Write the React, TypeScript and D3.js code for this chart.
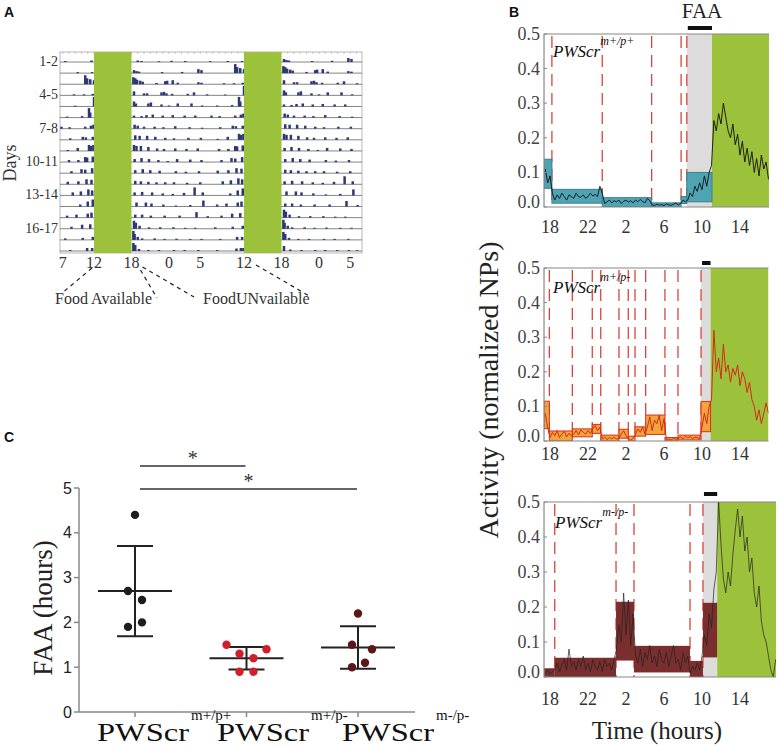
import React, { useEffect, useRef } from "react";
import * as d3 from "d3";

const SERIF = "'Liberation Serif', 'Times New Roman', serif";
const SANS = "'Liberation Sans', Arial, sans-serif";

// ---- A: double plotted actogram, bouts per day as [clock hour, relative height]
const actoDays: [number, number][][] = [
  [[7.2, 0.1], [11.4, 0.15], [18.8, 0.15], [19.4, 0.1], [22.2, 0.08]],
  [[0.2, 0.12], [2.4, 0.1], [6.4, 0.08], [9.2, 0.1], [11.5, 0.1], [18.2, 0.3], [18.6, 0.2], [19, 0.15], [22.7, 0.1]],
  [[1.9, 0.12], [4.5, 0.4], [5, 0.3], [10.4, 0.9], [10.7, 0.6], [11.2, 0.5], [11.8, 0.4], [18.1, 0.7], [18.4, 0.6], [18.7, 0.45], [19.2, 0.35], [19.6, 0.25], [21.8, 0.12], [23.2, 0.3], [23.5, 0.35]],
  [[0.4, 0.4], [1.2, 0.15], [4.5, 0.2], [5, 0.15], [8.6, 0.1], [10.2, 0.1], [11.6, 0.15], [18.2, 0.4], [19.8, 0.2], [20.3, 0.2], [22.6, 0.3], [23, 0.35], [23.4, 0.2]],
  [[0.3, 0.15], [2.8, 0.15], [3.8, 0.3], [5.9, 0.1], [8.8, 0.08], [11.8, 0.95], [11.9, 0.6], [18.2, 0.5], [18.5, 0.3], [20.5, 0.3], [20.9, 0.4], [22.6, 0.2], [23.8, 0.1]],
  [[1.2, 0.3], [3.4, 0.3], [5.1, 0.1], [7.5, 0.1], [9.9, 0.15], [11, 0.95], [11.2, 0.5], [18.2, 0.2], [19.4, 0.15], [20.2, 0.25], [21.2, 0.3], [22.8, 0.2]],
  [[0.4, 0.25], [2.3, 0.2], [4, 0.2], [6.6, 0.2], [7.9, 0.15], [10.4, 0.2], [11.3, 0.3], [11.7, 0.4], [18.3, 0.4], [18.8, 0.3], [19.8, 0.2], [21.5, 0.2], [22.9, 0.15]],
  [[0.8, 0.25], [3.1, 0.15], [5.1, 0.1], [8, 0.15], [10, 0.3], [10.5, 0.25], [11.6, 0.3], [18.4, 0.45], [19.1, 0.4], [20.3, 0.4], [21.6, 0.3], [23.2, 0.2]],
  [[0.6, 0.15], [2.9, 0.2], [4.9, 0.2], [7.6, 0.1], [9.2, 0.3], [11, 0.6], [11.3, 0.5], [11.7, 0.6], [18.2, 0.6], [18.6, 0.5], [19.3, 0.5], [20.5, 0.4], [21.9, 0.25], [23, 0.2]],
  [[0.8, 0.25], [2.6, 0.2], [4.4, 0.25], [7.8, 0.2], [9.3, 0.2], [10.4, 0.5], [10.7, 0.45], [11.6, 0.55], [18.3, 0.3], [19.4, 0.4], [20.6, 0.3], [22.1, 0.2], [23.6, 0.1]],
  [[1.1, 0.3], [3.2, 0.25], [5, 0.2], [8.2, 0.2], [9.8, 0.4], [10.4, 0.35], [11.5, 0.5], [18.4, 0.3], [19.6, 0.4], [20.8, 0.3], [22.3, 0.25]],
  [[0.9, 0.2], [2.5, 0.15], [4.6, 0.2], [7.6, 0.25], [9.3, 0.3], [10.6, 0.5], [11.4, 0.45], [18.4, 0.35], [19.3, 0.3], [20.5, 0.25], [21.8, 0.2], [23.2, 0.2]],
  [[0.6, 0.2], [2.7, 0.15], [4.8, 0.2], [8.4, 0.3], [9.7, 0.4], [10.9, 0.6], [11.5, 0.5], [18.3, 0.3], [19.5, 0.35], [21.1, 0.3], [22.8, 0.2]],
  [[0.4, 0.15], [2.2, 0.25], [3.9, 0.8], [5.2, 0.3], [9.6, 0.2], [10.8, 0.5], [11.6, 0.7], [18.6, 0.4], [20.1, 0.4], [21, 0.3], [22.9, 0.2]],
  [[0.9, 0.1], [3.2, 0.15], [5.3, 0.6], [7.5, 0.2], [9, 0.3], [10.8, 0.4], [11.4, 0.5], [18.4, 0.3], [19.5, 0.3], [20.9, 0.2], [23.1, 0.2]],
  [[1.5, 0.2], [4.2, 0.55], [6, 0.15], [8.2, 0.2], [9.9, 0.4], [11.2, 0.45], [18.2, 0.8], [18.5, 0.6], [19.1, 0.3], [20.6, 0.15], [22.4, 0.15]],
  [[0.5, 0.15], [2.4, 0.1], [4, 0.1], [7.2, 0.15], [10, 0.2], [11.6, 0.3], [18.1, 0.9], [18.3, 0.6], [18.8, 0.3], [19.5, 0.15], [21.5, 0.15], [23.1, 0.1]],
  [[1, 0.12], [3.2, 0.1], [5, 0.1], [8, 0.1], [10.7, 0.3], [11.5, 0.3], [18.1, 0.8], [18.4, 0.6], [19, 0.2], [20.5, 0.1], [22.2, 0.1]],
  [[0.6, 0.1], [2.3, 0.1], [4.5, 0.1], [7.5, 0.1], [10.6, 0.25], [11.3, 0.3], [11.7, 0.3], [18.2, 0.5], [19.2, 0.15], [21, 0.1], [23.2, 0.1]],
  [[0.8, 0.1], [2.7, 0.1], [4.6, 0.1], [5.9, 0.08]],
];
const actoRowCount = 18;
const actoRowLabels = ["1-2", "4-5", "7-8", "10-11", "13-14", "16-17"];
const actoTickHours = [7, 12, 18, 24, 29, 36, 42, 48, 53];
const actoTickLabels = ["7", "12", "18", "0", "5", "12", "18", "0", "5"];
const foodWindows = [[12, 18], [36, 42]];

// ---- B: activity traces (0.25 h bins from 17.5 h), segment cuts and band ranges
const hourTicks = [18, 22, 26, 30, 34, 38];
const hourTickLabels = ["18", "22", "2", "6", "10", "14"];
const activityTicks = [0, 0.1, 0.2, 0.3, 0.4, 0.5];
const traceStart = 17.5;
const traceStep = 0.25;

const wtTrace = [
  0.11, 0.07, 0.09, 0.04,
  0.02, 0.035, 0.025, 0.04, 0.03, 0.02, 0.035, 0.03, 0.025, 0.04, 0.03, 0.028, 0.035, 0.025, 0.03, 0.04, 0.032, 0.036, 0.03, 0.06, 0.04,
  0.01, 0.015, 0.02, 0.012, 0.018, 0.015, 0.02, 0.01, 0.016, 0.02, 0.014, 0.018, 0.012, 0.02, 0.015, 0.022, 0.016, 0.012, 0.025, 0.018,
  0.006, 0.004, 0.008, 0.005, 0.007, 0.004, 0.009, 0.006, 0.005, 0.008, 0.012, 0.006, 0.01,
  0.02, 0.015,
  0.02, 0.04, 0.03, 0.06, 0.045, 0.07, 0.05, 0.09, 0.06, 0.1,
  0.12,
  0.25, 0.22, 0.27, 0.24, 0.3, 0.26, 0.22, 0.2, 0.24, 0.18, 0.21, 0.15, 0.19, 0.13, 0.17, 0.12, 0.16, 0.1, 0.14, 0.09, 0.15, 0.11, 0.13, 0.08,
];
const wtCuts = [17.37, 18.2, 23.5, 28.7, 31.8, 32.4, 35.05];
const wtBands = [[0.054, 0.138], [0.011, 0.051], [0.001, 0.027], [0, 0.012], [0.01, 0.03], [0.015, 0.1]];
const wtEnd = 41.05;

const patTrace = [
  0.08, 0.04,
  0.01, 0.025, 0.015, 0.03, 0.01, 0.02, 0.028, 0.012, 0.022, 0.015,
  0.02, 0.03, 0.018, 0.032, 0.025, 0.02, 0.03, 0.022,
  0.035, 0.045, 0.03, 0.04,
  0.005, 0.012, 0.004, 0.01, 0.006, 0.012, 0.005, 0.008,
  0.02, 0.03, 0.015,
  0.005, 0.002, 0.008,
  0.02, 0.035, 0.025, 0.04, 0.02,
  0.04, 0.07, 0.03, 0.06, 0.05, 0.075, 0.03, 0.065,
  0.004, 0.006, 0.003, 0.007, 0.005,
  0.008, 0.012, 0.006, 0.014, 0.009, 0.013, 0.007, 0.011, 0.01, 0.006,
  0.04, 0.08, 0.05, 0.1,
  0.12,
  0.32, 0.2, 0.24, 0.18, 0.28, 0.2, 0.22, 0.17, 0.21, 0.19, 0.22, 0.16, 0.2, 0.18, 0.14, 0.17, 0.12, 0.1, 0.06, 0.09, 0.05, 0.08, 0.11, 0.08,
];
const patCuts = [17.37, 17.93, 20.35, 22.45, 23.34, 25.26, 26.24, 26.95, 28.07, 30.1, 31.47, 33.9, 34.9];
const patBands = [
  [0.036, 0.115], [0, 0.029], [0.012, 0.035], [0.022, 0.048], [0, 0.017], [0.008, 0.034],
  [0, 0.014], [0.014, 0.041], [0.019, 0.075], [0, 0.01], [0.003, 0.017], [0.027, 0.114],
];
const patEnd = 41.0;

const nullTrace = [
  0.01, 0.02, 0.008, 0.015,
  0.02, 0.04, 0.015, 0.035, 0.05, 0.02, 0.08, 0.03, 0.045, 0.02, 0.05, 0.03, 0.06, 0.02, 0.04, 0.015, 0.05, 0.03, 0.02, 0.045, 0.015, 0.05, 0.03, 0.04, 0.02, 0.05,
  0.08, 0.15, 0.1, 0.24, 0.12, 0.22, 0.09, 0.18,
  0.06, 0.04, 0.08, 0.03, 0.07, 0.05, 0.09, 0.04, 0.06, 0.03, 0.08, 0.05, 0.04, 0.07, 0.03, 0.06, 0.09, 0.04, 0.05, 0.02, 0.07, 0.04, 0.06,
  0.01, 0.03, 0.02, 0.04, 0.02,
  0.06, 0.12, 0.09, 0.18, 0.14, 0.25, 0.3,
  0.5, 0.38, 0.28, 0.24, 0.3, 0.26, 0.35, 0.42, 0.48, 0.4, 0.46, 0.36, 0.4, 0.3, 0.34, 0.24, 0.2, 0.26, 0.16, 0.12, 0.1, 0.06, 0.02, 0.0, 0.05,
];
const nullCuts = [17.37, 18.5, 24.95, 26.84, 32.74, 34.1, 35.6];
const nullBands = [[0, 0.025], [0, 0.055], [0.047, 0.215], [0.013, 0.089], [0, 0.046], [0.056, 0.212]];
const nullEnd = 41.8;

// ---- C: FAA duration per mouse
const genotypes = ["m+/p+", "m+/p-", "m-/p-"];
const faaValues = [
  [4.4, 2.7, 2.5, 1.9, 2.0],
  [1.5, 1.3, 1.4, 1.2, 0.9, 0.9],
  [2.2, 1.5, 1.4, 1.1, 1.0],
];
const faaJitter = [
  [0, -7, 7, -7, 7],
  [-20, -7, 20, 7, -7, 7],
  [0, -6, 14, 7, -6],
];
const faaTicks = [0, 1, 2, 3, 4, 5];

const GREEN = "#9cc23b";

function drawActogram(g) {
  const x = d3.scaleLinear().domain([12, 36]).range([94, 244]);
  const left = 60, right = 362, top = 52, bottom = 253;
  const hStart = x.invert(left), hEnd = x.invert(right);
  const rowY = d3.scaleLinear().domain([0, actoRowCount - 1]).range([62, 251]);
  const barH = d3.scaleLinear().domain([0, 1]).range([0, 10]);
  const binW = x(hStart + 0.4) - x(hStart);

  g.append("rect").attr("x", left).attr("y", top).attr("width", right - left).attr("height", bottom - top)
    .attr("fill", "#fff").attr("stroke", "#b8b8b8").attr("stroke-width", 1);

  g.append("g").selectAll("line").data(d3.range(Math.ceil(hStart), hEnd)).join("line")
    .attr("x1", (h) => x(h)).attr("x2", (h) => x(h)).attr("y1", top).attr("y2", top + 2)
    .attr("stroke", "#aaa").attr("stroke-width", 0.6);

  for (let r = 0; r < actoRowCount; r++) {
    const base = rowY(r);
    const bouts = [];
    for (let k = 0; k < 3; k++) {
      (actoDays[r + k] || []).forEach(([h, v]) => {
        const t = h + 24 * k;
        if (t >= hStart && t <= hEnd - 0.4) bouts.push([t, v]);
      });
    }
    g.append("line").attr("x1", left).attr("x2", right).attr("y1", base).attr("y2", base)
      .attr("stroke", "#666").attr("stroke-width", 0.8);
    g.append("g").selectAll("rect").data(bouts).join("rect")
      .attr("x", (d) => x(d[0])).attr("width", binW)
      .attr("y", (d) => base - barH(d[1])).attr("height", (d) => barH(d[1]))
      .attr("fill", "#2d3876");
  }

  g.append("g").selectAll("rect").data(foodWindows).join("rect")
    .attr("x", (d) => x(d[0])).attr("width", (d) => x(d[1]) - x(d[0]))
    .attr("y", top).attr("height", bottom - top).attr("fill", GREEN);

  g.append("g").selectAll("text").data(actoRowLabels).join("text")
    .attr("x", 58).attr("y", (d, i) => rowY(i * 3) + 4)
    .attr("text-anchor", "end").attr("font-family", SERIF).attr("font-size", 14).attr("fill", "#333")
    .text((d) => d);

  g.append("g").selectAll("text").data(actoTickHours).join("text")
    .attr("x", (h) => x(h)).attr("y", 268)
    .attr("text-anchor", "middle").attr("font-family", SERIF).attr("font-size", 16).attr("fill", "#333")
    .text((d, i) => actoTickLabels[i]);

  g.append("text").attr("transform", "translate(16,163) rotate(-90)").attr("text-anchor", "middle")
    .attr("font-family", SERIF).attr("font-size", 18).attr("fill", "#333").text("Days");

  const guides = [
    [x(12) - 2, 268, 61, 294],
    [x(18) + 9, 270, 157, 298],
    [x(18) + 11, 267, 194, 297],
    [x(36) + 12, 265, 311, 297],
  ];
  g.append("g").selectAll("line").data(guides).join("line")
    .attr("x1", (d) => d[0]).attr("y1", (d) => d[1]).attr("x2", (d) => d[2]).attr("y2", (d) => d[3])
    .attr("stroke", "#222").attr("stroke-width", 1.2).attr("stroke-dasharray", "4,4");

  g.append("text").attr("x", 55).attr("y", 304).attr("font-family", SERIF).attr("font-size", 16)
    .attr("fill", "#333").text("Food Available");
  g.append("text").attr("x", 203).attr("y", 304).attr("font-family", SERIF).attr("font-size", 16)
    .attr("fill", "#333").text("FoodUNvailable");
}

function drawActivity(g, p) {
  const x = d3.scaleLinear().domain([18, 38]).range([550, 740]);
  const y = d3.scaleLinear().domain([0, 0.5]).range([p.bottom, p.top]);
  const cuts = p.cuts;
  const n = cuts.length;
  const left = x(cuts[0]), right = x(p.end);
  const clipId = "clip-" + p.id;

  g.append("clipPath").attr("id", clipId).append("rect")
    .attr("x", left).attr("y", p.top).attr("width", right - left).attr("height", p.bottom - p.top);

  const body = g.append("g").attr("clip-path", `url(#${clipId})`);

  body.append("rect").attr("x", x(cuts[n - 2])).attr("width", x(cuts[n - 1]) - x(cuts[n - 2]))
    .attr("y", p.top).attr("height", p.bottom - p.top).attr("fill", "#dcdcdc");
  body.append("rect").attr("x", x(cuts[n - 1])).attr("width", right - x(cuts[n - 1]))
    .attr("y", p.top).attr("height", p.bottom - p.top).attr("fill", GREEN);

  body.append("g").selectAll("line").data(cuts.slice(1, n - 1)).join("line")
    .attr("x1", (c) => x(c)).attr("x2", (c) => x(c)).attr("y1", p.top + 2).attr("y2", p.bottom)
    .attr("stroke", "#d8453c").attr("stroke-width", 1.3).attr("stroke-dasharray", "12,7");

  body.append("g").selectAll("rect").data(p.bands).join("rect")
    .attr("x", (d, i) => x(cuts[i])).attr("width", (d, i) => x(cuts[i + 1]) - x(cuts[i]))
    .attr("y", (d) => y(d[1])).attr("height", (d) => y(d[0]) - y(d[1]))
    .attr("fill", p.bandFill).attr("stroke", p.bandStroke).attr("stroke-width", p.bandStroke === "none" ? 0 : 1);

  const line = d3.line().x((d, i) => x(traceStart + i * traceStep)).y((d) => y(d));
  body.append("path").datum(p.trace).attr("d", line).attr("fill", "none")
    .attr("stroke", p.traceColor).attr("stroke-width", p.traceWidth).attr("stroke-linejoin", "round");

  // frame
  g.append("path").attr("d", `M${right},${p.top}H${left}V${p.bottom}H${right}`)
    .attr("fill", "none").attr("stroke", "#888").attr("stroke-width", 1.2);
  g.append("g").selectAll("line").data(activityTicks).join("line")
    .attr("x1", left).attr("x2", left + 3).attr("y1", (v) => y(v)).attr("y2", (v) => y(v))
    .attr("stroke", "#888").attr("stroke-width", 1);

  g.append("g").selectAll("text").data(activityTicks).join("text")
    .attr("x", 540).attr("y", (v) => (v === 0 ? y(v) - 5 : y(v)))
    .attr("dominant-baseline", "central").attr("text-anchor", "end")
    .attr("font-family", SERIF).attr("font-size", 18).attr("fill", "#444")
    .text((v) => d3.format(".1f")(v));

  g.append("g").selectAll("text").data(hourTicks).join("text")
    .attr("x", (h) => x(h)).attr("y", p.labelY).attr("text-anchor", "middle")
    .attr("font-family", SERIF).attr("font-size", 18).attr("fill", "#333")
    .text((d, i) => hourTickLabels[i]);

  g.append("line").attr("x1", x(cuts[n - 2]) + 1).attr("x2", x(cuts[n - 1]))
    .attr("y1", p.barY).attr("y2", p.barY).attr("stroke", "#111").attr("stroke-width", 4);

  const t = g.append("text").attr("x", p.nameX).attr("y", p.nameY)
    .attr("font-family", SERIF).attr("font-style", "italic").attr("font-size", 17).attr("fill", "#111");
  t.append("tspan").text("PWScr");
  t.append("tspan").attr("dy", -12).attr("font-size", 12).text(p.genotype);
}

function drawFaa(g) {
  const y = d3.scaleLinear().domain([0, 5]).range([712, 488]);
  const x = d3.scalePoint().domain(genotypes).range([135, 358]);
  const colors = ["#1d1d1d", "#d01f2b", "#5a1818"];
  const axisColor = "#8a8a8a";

  g.append("line").attr("x1", 79).attr("x2", 79).attr("y1", y(5)).attr("y2", y(0))
    .attr("stroke", axisColor).attr("stroke-width", 1.5);
  g.append("line").attr("x1", 79).attr("x2", 415).attr("y1", y(0)).attr("y2", y(0))
    .attr("stroke", axisColor).attr("stroke-width", 1.5);
  g.append("g").selectAll("line").data(faaTicks).join("line")
    .attr("x1", 74).attr("x2", 79).attr("y1", (v) => y(v)).attr("y2", (v) => y(v))
    .attr("stroke", axisColor).attr("stroke-width", 1.5);
  g.append("g").selectAll("line").data(genotypes).join("line")
    .attr("x1", (d) => x(d)).attr("x2", (d) => x(d)).attr("y1", y(0)).attr("y2", y(0) + 5)
    .attr("stroke", axisColor).attr("stroke-width", 1.5);
  g.append("g").selectAll("text").data(faaTicks).join("text")
    .attr("x", 72).attr("y", (v) => y(v)).attr("dominant-baseline", "central").attr("text-anchor", "end")
    .attr("font-family", SANS).attr("font-size", 16).attr("fill", "#222").text((v) => v);

  g.append("text").attr("transform", `translate(52,${(y(0) + y(5)) / 2 + 8}) rotate(-90)`)
    .attr("text-anchor", "middle").attr("font-family", SERIF).attr("font-size", 27).attr("fill", "#222")
    .text("FAA (hours)");

  // category labels: "PWScr" with the genotype as superscript
  const labelX = [97, 217, 342];
  genotypes.forEach((gt, i) => {
    g.append("text").attr("x", labelX[i]).attr("y", 741)
      .attr("textLength", 92).attr("lengthAdjust", "spacingAndGlyphs")
      .attr("font-family", SERIF).attr("font-size", 26).attr("fill", "#111").text("PWScr");
    g.append("text").attr("x", labelX[i] + 94).attr("y", 720)
      .attr("font-family", SERIF).attr("font-size", 15).attr("fill", "#111").text(gt);
  });

  faaValues.forEach((vals, i) => {
    const cx = x(genotypes[i]);
    const m = d3.mean(vals);
    const sd = d3.deviation(vals);
    const stats = g.append("g").attr("stroke", "#222").attr("stroke-width", 2);
    stats.append("line").attr("x1", cx - 37).attr("x2", cx + 37).attr("y1", y(m)).attr("y2", y(m));
    stats.append("line").attr("x1", cx).attr("x2", cx).attr("y1", y(m - sd)).attr("y2", y(m + sd));
    [m - sd, m + sd].forEach((v) => {
      stats.append("line").attr("x1", cx - 18).attr("x2", cx + 18).attr("y1", y(v)).attr("y2", y(v));
    });
    g.append("g").selectAll("circle").data(vals).join("circle")
      .attr("cx", (d, j) => cx + faaJitter[i][j]).attr("cy", (d) => y(d)).attr("r", 4.2)
      .attr("fill", colors[i]);
  });

  const sig = [[0, 1, 466], [0, 2, 489]];
  sig.forEach(([a, b, yy]) => {
    const x1 = x(genotypes[a]) + 5, x2 = x(genotypes[b]) - 1;
    g.append("line").attr("x1", x1).attr("x2", x2).attr("y1", yy).attr("y2", yy)
      .attr("stroke", "#333").attr("stroke-width", 1.5);
    g.append("text").attr("x", (x1 + x2) / 2).attr("y", yy - 1).attr("text-anchor", "middle")
      .attr("font-family", SERIF).attr("font-size", 20).attr("fill", "#333").text("*");
  });
}

const App = () => {
  const svgRef = useRef<SVGSVGElement>(null);

  useEffect(() => {
    const svg = d3.select(svgRef.current);
    svg.selectAll("*").remove();

    drawActogram(svg.append("g"));

    const panels = [
      { id: "wt", top: 34, bottom: 207, trace: wtTrace, cuts: wtCuts, bands: wtBands, end: wtEnd,
        bandFill: "#4fa4b4", bandStroke: "#3a7f8e", traceColor: "#111", traceWidth: 0.9,
        labelY: 233, barY: 28, nameX: 553, nameY: 57, genotype: "m+/p+" },
      { id: "pat", top: 268, bottom: 441, trace: patTrace, cuts: patCuts, bands: patBands, end: patEnd,
        bandFill: "#f2a53c", bandStroke: "#d7301f", traceColor: "#d62a18", traceWidth: 1,
        labelY: 460, barY: 263, nameX: 553, nameY: 293, genotype: "m+/p-" },
      { id: "null", top: 502, bottom: 677, trace: nullTrace, cuts: nullCuts, bands: nullBands, end: nullEnd,
        bandFill: "#7b2e2e", bandStroke: "none", traceColor: "#222", traceWidth: 0.7,
        labelY: 705, barY: 494, nameX: 555, nameY: 528, genotype: "m-/p-" },
    ];
    panels.forEach((p) => drawActivity(svg.append("g"), p));

    svg.append("text").attr("x", 702).attr("y", 18).attr("text-anchor", "middle")
      .attr("font-family", SERIF).attr("font-size", 21).attr("fill", "#222").text("FAA");
    svg.append("text").attr("transform", "translate(498,390) rotate(-90)").attr("text-anchor", "middle")
      .attr("font-family", SERIF).attr("font-size", 28).attr("fill", "#222").text("Activity (normalized NPs)");
    svg.append("text").attr("x", 657).attr("y", 739).attr("text-anchor", "middle")
      .attr("font-family", SERIF).attr("font-size", 25).attr("fill", "#222").text("Time (hours)");

    drawFaa(svg.append("g"));

    const tags = [["A", 4, 17], ["B", 509, 17], ["C", 4, 442]];
    svg.append("g").selectAll("text").data(tags).join("text")
      .attr("x", (d) => d[1]).attr("y", (d) => d[2])
      .attr("font-family", SANS).attr("font-weight", "bold").attr("font-size", 14).attr("fill", "#111")
      .text((d) => d[0]);
  }, []);

  return (
    <svg
      ref={svgRef}
      width={777}
      height={746}
      style={{ position: "absolute", left: 0, top: 0, background: "#fff" }}
    ></svg>
  );
};

export default App;
